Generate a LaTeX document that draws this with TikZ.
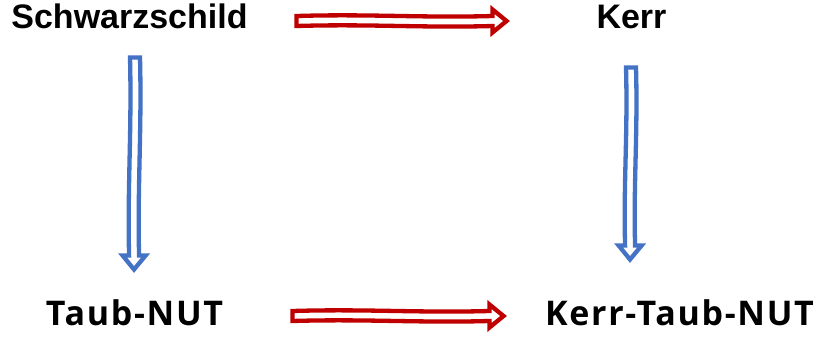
\documentclass[tikz,border=0pt]{standalone}
\usepackage{fontspec}
\usepackage{tikz}
\usetikzlibrary{calc}
\newfontfamily\topfont{Liberation Sans}
\newfontfamily\botfont{Open Sans}[LetterSpace=5]
\definecolor{arrowred}{HTML}{C00000}
\definecolor{arrowblue}{HTML}{4472C4}

\tikzset{
  toplabel/.style={font=\topfont\bfseries\fontsize{34}{40}\selectfont, anchor=base, inner sep=0pt},
  botlabel/.style={font=\botfont\bfseries\fontsize{34}{41}\selectfont, anchor=base, inner sep=0pt},
  redarrow/.style={draw=arrowred, line width=4.3pt, fill=white, line join=miter},
  bluearrow/.style={draw=arrowblue, line width=4.3pt, fill=white, line join=miter}
}

% hollow block arrow, slightly wavy: style, from, to
\newcommand{\hollowarrow}[3]{%
  \path let \p1=(#2), \p2=(#3) in \pgfextra{%
    \pgfmathsetmacro\arrang{atan2(\y2-\y1,\x2-\x1)}%
    \pgfmathsetmacro\arrlen{veclen(\x2-\x1,\y2-\y1)}%
    \xdef\arrang{\arrang}\xdef\arrlen{\arrlen}};
  \begin{scope}[shift={(#2)}, rotate=\arrang]
    \draw[#1] (0pt,5pt) .. controls (0.35*\arrlen pt,7.2pt) and (0.6*\arrlen pt,3pt) .. (\arrlen pt-14pt,5pt)
      -- (\arrlen pt-14pt,11.5pt) -- (\arrlen pt,0pt) -- (\arrlen pt-14pt,-11.5pt) -- (\arrlen pt-14pt,-5pt)
      .. controls (0.6*\arrlen pt,-7pt) and (0.35*\arrlen pt,-2.8pt) .. (0pt,-5pt) -- cycle;
  \end{scope}}

\begin{document}
\begin{tikzpicture}[x=1pt, y=-1pt]
  \useasboundingbox (0,0) rectangle (819,340);

  \node[toplabel] (Schwarzschild) at (129.5,28) {Schwarzschild};
  \node[toplabel] (Kerr) at (631.5,28) {Kerr};
  \node[botlabel] (TaubNUT) at (134.5,325) {Taub-NUT};
  \node[botlabel] (KerrTaubNUT) at (679.5,325) {Kerr-Taub-NUT};

  % arrow ends
  \coordinate (SchwOut) at (296.5,21);
  \coordinate (KerrIn) at (506.5,21);
  \coordinate (TaubOut) at (292.5,316);
  \coordinate (KTNIn) at (503.5,316);
  \coordinate (SchwDown) at (135,57.5);
  \coordinate (TaubIn) at (134,269.5);
  \coordinate (KerrDown) at (631,67.5);
  \coordinate (KTNTop) at (630,259.5);

  \hollowarrow{redarrow}{SchwOut}{KerrIn}
  \hollowarrow{redarrow}{TaubOut}{KTNIn}
  \hollowarrow{bluearrow}{SchwDown}{TaubIn}
  \hollowarrow{bluearrow}{KerrDown}{KTNTop}
\end{tikzpicture}
\end{document}
